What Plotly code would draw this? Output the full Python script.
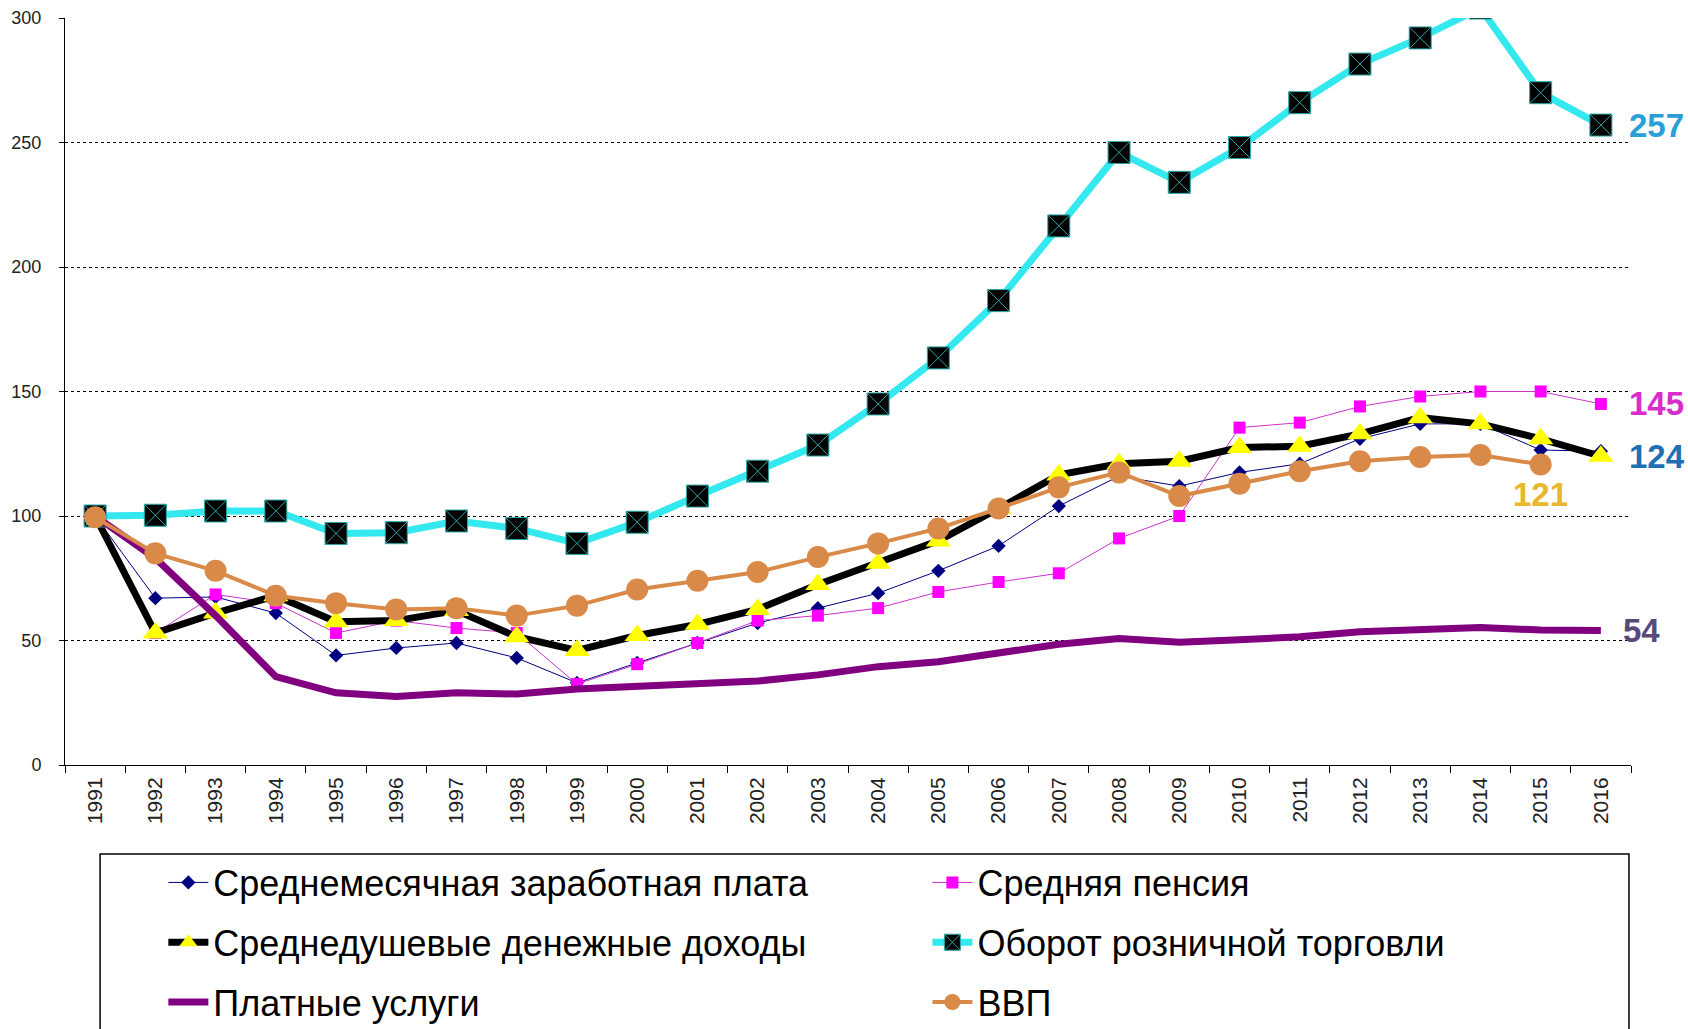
import plotly.graph_objects as go

years = [str(y) for y in range(1991, 2017)]

wage = [100, 67, 67.5, 61, 44, 47, 49, 43, 33, 41, 49, 57, 63, 69, 78, 88, 104, 116, 112, 117.5, 121, 131, 137, 137, 126.5, 126]
pension = [100, 53, 68.5, 65, 53, 58, 55, 53, 32.5, 40.5, 49, 58, 60, 63, 69.5, 73.5, 77, 91, 100, 135.5, 137.5, 144, 148, 150, 150, 145]
income = [100, 53, 61, 68, 57.5, 58, 62, 51.5, 46, 52, 56.5, 62.5, 72.5, 81, 90, 103, 116.5, 121, 122, 127.5, 128, 133, 139.5, 137, 131, 124]
retail = [100, 100.3, 102, 102, 93, 93.3, 98, 95, 89, 97.5, 108, 118, 128.5, 145, 163.5, 186.5, 216.5, 246, 234, 248, 266, 281.5, 292, 304, 270, 257]
services = [100, 83, 60, 35.5, 29, 27.5, 29, 28.5, 30.5, 31.8, 32.5, 33.7, 36.2, 39.5, 41.5, 45.3, 48.5, 50.8, 49.3, 50.3, 51.5, 53.5, 54.6, 55.2, 54.2, 54]
gdp = [99.5, 85, 78, 68, 65, 62.5, 63, 60, 64, 70.5, 74, 77.5, 83.5, 89, 95, 103, 111.5, 117.5, 108, 113, 118, 122, 123.7, 124.5, 120.7, None]

names = [
    "Среднемесячная заработная плата",
    "Средняя пенсия",
    "Среднедушевые денежные доходы",
    "Оборот розничной торговли",
    "Платные услуги",
    "ВВП",
]

end_labels = ["257", "145", "124", "121", "54"]

FONT = "Liberation Sans, Arial, sans-serif"

fig = go.Figure()

fig.add_trace(go.Scatter(
    x=years, y=wage, name=names[0], mode="lines+markers",
    line=dict(color="#000080", width=1),
    marker=dict(symbol="diamond", size=11, color="#000080"),
    legend="legend", legendgroup="g1",
))
fig.add_trace(go.Scatter(
    x=years, y=pension, name=names[1], mode="lines+markers",
    line=dict(color="#CC33CC", width=1),
    marker=dict(symbol="square", size=12, color="#FF00FF"),
    legend="legend2", legendgroup="g2",
))
fig.add_trace(go.Scatter(
    x=years, y=income, name=names[2], mode="lines+markers",
    line=dict(color="#000000", width=7),
    marker=dict(symbol="triangle-up", size=22, color="#FFFF00", line=dict(width=0)),
    legend="legend", legendgroup="g3",
))
fig.add_trace(go.Scatter(
    x=years, y=retail, name=names[3], mode="lines+markers",
    line=dict(color="#33E8EE", width=7),
    marker=dict(symbol="square-x", size=22, color="#000000",
                line=dict(color="#2AA8A8", width=1)),
    legend="legend2", legendgroup="g4",
))
fig.add_trace(go.Scatter(
    x=years, y=services, name=names[4], mode="lines",
    line=dict(color="#800080", width=7),
    legend="legend", legendgroup="g5",
))
fig.add_trace(go.Scatter(
    x=years, y=gdp, name=names[5], mode="lines+markers",
    line=dict(color="#DA8A48", width=4),
    marker=dict(symbol="circle", size=22, color="#DA8A48"),
    legend="legend2", legendgroup="g6",
))

last = len(years) - 1

# end-of-line value labels
fig.add_annotation(x=last, y=retail[-1], text="<b>" + end_labels[0] + "</b>",
                   showarrow=False, xanchor="left", xshift=26,
                   font=dict(family=FONT, size=33, color="#2A9FD8"))
fig.add_annotation(x=last, y=pension[-1], text="<b>" + end_labels[1] + "</b>",
                   showarrow=False, xanchor="left", xshift=26,
                   font=dict(family=FONT, size=33, color="#D82CCB"))
fig.add_annotation(x=last, y=income[-1], text="<b>" + end_labels[2] + "</b>",
                   showarrow=False, xanchor="left", xshift=26,
                   font=dict(family=FONT, size=33, color="#1F6FB3"))
fig.add_annotation(x=last - 1, y=gdp[-2], text="<b>" + end_labels[3] + "</b>",
                   showarrow=False, xanchor="center", yshift=-30,
                   font=dict(family=FONT, size=33, color="#E8B82C"))
fig.add_annotation(x=last, y=services[-1], text="<b>" + end_labels[4] + "</b>",
                   showarrow=False, xanchor="left", xshift=20,
                   font=dict(family=FONT, size=33, color="#574A7A"))

# legend frame
fig.add_shape(type="rect", xref="paper", yref="paper",
              x0=0.0224, x1=0.9987, y0=-0.45, y1=-0.119,
              line=dict(color="#000000", width=1.5), fillcolor="rgba(0,0,0,0)")

legend_common = dict(
    orientation="v", yanchor="top", xanchor="left", xref="paper", yref="container",
    font=dict(family=FONT, size=36, color="#000000"),
    bgcolor="rgba(0,0,0,0)", borderwidth=0, tracegroupgap=10,
    itemwidth=40,
)

fig.update_layout(
    width=1688, height=1029,
    margin=dict(l=65, r=57, t=18, b=264, autoexpand=False),
    paper_bgcolor="white", plot_bgcolor="white",
    font=dict(family=FONT, color="#222222"),
    showlegend=True,
    legend=dict(x=0.0628, y=0.1715, **legend_common),
    legend2=dict(x=0.5507, y=0.1715, **legend_common),
    xaxis=dict(
        type="category", range=[-0.5, 25.5],
        tickson="boundaries", ticks="outside", ticklen=7, tickcolor="#000",
        tickangle=-90, tickfont=dict(family=FONT, size=21, color="#222"),
        ticklabelstandoff=3,
        showline=True, linecolor="#000", linewidth=1,
        showgrid=False, automargin=False,
    ),
    yaxis=dict(
        range=[0, 300], dtick=50, ticks="outside", ticklen=5, tickcolor="#000",
        tickfont=dict(family=FONT, size=18, color="#222"),
        ticklabelstandoff=14,
        showline=True, linecolor="#000", linewidth=1,
        showgrid=True, gridcolor="#000", gridwidth=1, griddash="dot",
        zeroline=False, automargin=False,
    ),
)

fig.write_html(
    "out.html",
    config={"displayModeBar": False},
    post_script="document.body.style.margin='0';document.body.style.overflow='hidden';",
)
